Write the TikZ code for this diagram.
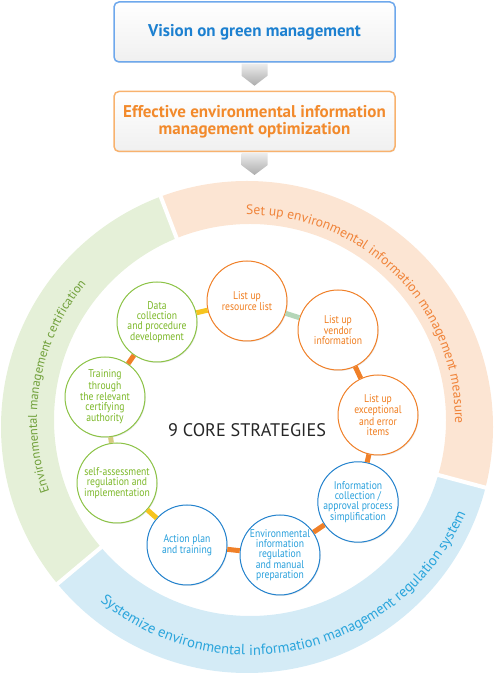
\documentclass[tikz,border=0pt]{standalone}
\usepackage{fontspec}
\setmainfont{PT Sans}
\newfontfamily\narrowfont[FakeStretch=0.86]{PT Sans}
\usetikzlibrary{calc,shadows,decorations.text}
\definecolor{ringgreen}{RGB}{229,240,216}
\definecolor{ringorange}{RGB}{252,229,211}
\definecolor{ringblue}{RGB}{212,235,246}
\definecolor{txtgreen}{RGB}{112,160,58}
\definecolor{txtorange}{RGB}{240,132,58}
\definecolor{txtblue}{RGB}{42,165,220}
\definecolor{myorange}{RGB}{240,128,40}
\definecolor{mygreen}{RGB}{140,195,70}
\definecolor{myblue}{RGB}{35,130,205}
\definecolor{nodegreen}{RGB}{124,184,40}
\definecolor{nodeorange}{RGB}{240,125,30}
\definecolor{nodeblue}{RGB}{40,160,220}
\definecolor{linkyellow}{RGB}{246,196,30}
\definecolor{linktan}{RGB}{214,204,130}
\definecolor{linkteal}{RGB}{180,214,184}
\definecolor{boxblue}{RGB}{110,168,236}
\definecolor{boxorange}{RGB}{248,178,110}
\definecolor{titleblue}{RGB}{28,128,208}
\definecolor{titleorange}{RGB}{242,138,44}
\begin{document}
\begin{tikzpicture}[x=1pt, y=1pt,
  topbox/.style={draw, line width=1.5pt, rounded corners=5pt, minimum width=281pt, minimum height=60pt,
    top color=white, bottom color=gray!12, align=center, font=\bfseries\fontsize{17}{17}\selectfont,
    drop shadow={shadow xshift=0.5pt, shadow yshift=-1pt, opacity=0.15}},
  strat/.style={circle, draw, line width=1pt, fill=white, minimum size=80pt, inner sep=0pt, align=center,
    font=\narrowfont\fontsize{11.2}{10}\selectfont,
    drop shadow={shadow xshift=0.8pt, shadow yshift=-1pt, opacity=0.18}},
  link/.style={line width=5pt},
  arrowfill/.style={top color=gray!15, bottom color=gray!65}]
  \useasboundingbox (0,0) rectangle (494,674);
  % ring segments
  \foreach \col/\from/\to in {ringgreen/111/220, ringblue/220/345, ringorange/-15/111} {
    \begin{scope}
      \clip (248,250) -- ++(\from:400) arc[start angle=\from, end angle=\to, radius=400] -- cycle;
      \fill[\col, even odd rule] (247,247) circle[radius=246] (250,254) circle[radius=196];
    \end{scope}
  }
  \foreach \a in {111,220,345} \draw[white, line width=4pt] (248,250) ++(\a:185) -- ++(\a:90);
  \coordinate (ringtop) at (247,493);
  % ring labels
  \path[decorate, decoration={text along path, text align=center,
    text={|\fontsize{13.6}{15}\selectfont\color{txtorange}|Set up environmental information management measure}}]
    (250,254) ++(105:205) arc[start angle=105, end angle=-15, radius=205];
  \path[decorate, decoration={text along path, text align=center,
    text={|\fontsize{12.6}{14}\selectfont\color{txtgreen}|Environmental management certification}}]
    (250,254) ++(215:213) arc[start angle=215, end angle=125, radius=213];
  \path[decorate, decoration={text along path, text align=center,
    text={|\fontsize{14.6}{16}\selectfont\color{txtblue}|Systemize environmental information management regulation system}}]
    (250,254) ++(210:235) arc[start angle=210, end angle=357, radius=235];
  % top boxes
  \node[topbox, draw=boxblue, text=titleblue] (vision) at (254.5,642) {Vision on green management};
  \node[topbox, draw=boxorange, text=titleorange] (optim) at (254.5,552.5) {Effective environmental information\\management optimization};
  \path[arrowfill] ($(vision.south)+(-13,-1)$) -- ++(26,0) -- ++(0,-12) -- ($(optim.north)+(0,5)$)
    -- ($(vision.south)+(-13,-13)$) -- cycle;
  \path[arrowfill] ($(optim.south)+(-13,-1)$) -- ++(26,0) -- ++(0,-12) -- ($(optim.south |- ringtop)+(0,6)$)
    -- ($(optim.south)+(-13,-13)$) -- cycle;
  % strategies
  \node[text=black!85, font=\fontsize{18.2}{22}\selectfont] (core) at (247,244) {9 CORE STRATEGIES};
  \node[strat, draw=myorange, text=nodeorange] (res) at (247,373) {List up\\resource list};
  \node[strat, draw=myorange, text=nodeorange] (vendor) at (338,344) {List up\\vendor\\information};
  \node[strat, draw=myorange, text=nodeorange] (except) at (378,259) {List up\\exceptional\\and error\\items};
  \node[strat, draw=myblue, text=nodeblue] (infocol) at (358,172) {Information\\collection /\\approval process\\simplification};
  \node[strat, draw=myblue, text=nodeblue] (envreg) at (280,119) {Environmental\\information\\regulation\\and manual\\preparation};
  \node[strat, draw=myblue, text=nodeblue] (action) at (187,129) {Action plan\\and training};
  \node[strat, draw=mygreen, text=nodegreen] (selfas) at (117,191) {self-assessment\\regulation and\\implementation};
  \node[strat, draw=mygreen, text=nodegreen] (training) at (105,277) {Training\\through\\the relevant\\certifying\\authority};
  \node[strat, draw=mygreen, text=nodegreen] (datacol) at (157,352) {Data\\collection\\and procedure\\development};
  % links
  \draw[link, linkteal] (res) -- (vendor);
  \draw[link, myorange] (vendor) -- (except);
  \draw[link, myorange] (except) -- (infocol);
  \draw[link, myorange] (infocol) -- (envreg);
  \draw[link, myorange] (envreg) -- (action);
  \draw[link, linkyellow] (action) -- (selfas);
  \draw[link, linktan] (selfas) -- (training);
  \draw[link, myorange] (training) -- (datacol);
  \draw[link, linkyellow] (datacol) -- (res);
\end{tikzpicture}
\end{document}
